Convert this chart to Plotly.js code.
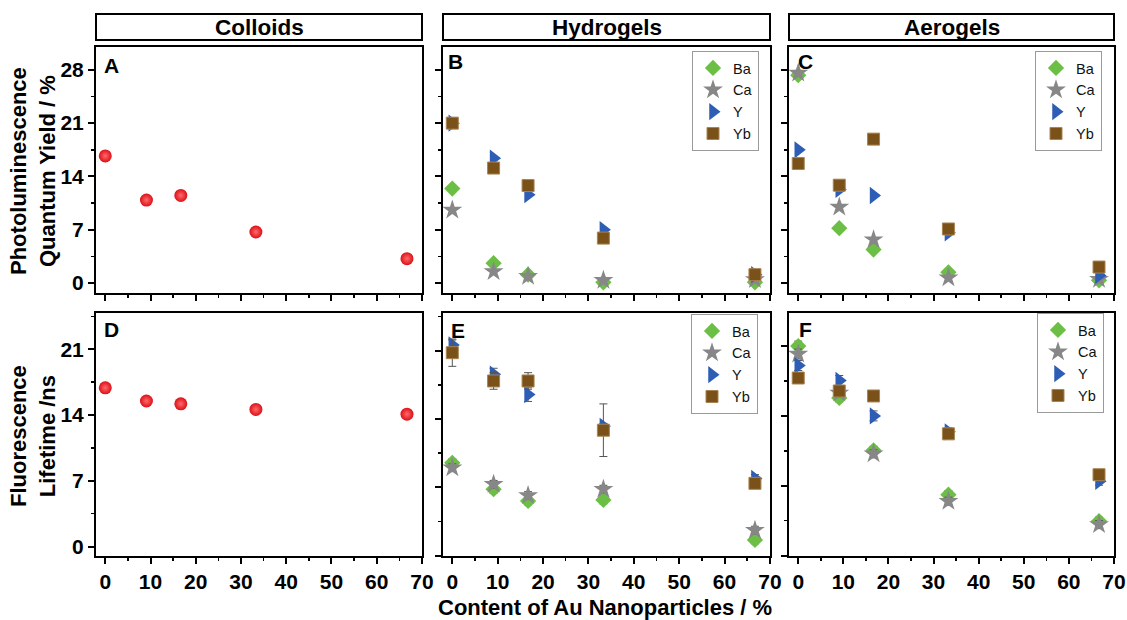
<!DOCTYPE html>
<html>
<head>
<meta charset="utf-8">
<script src="https://cdn.plot.ly/plotly-3.0.1.min.js"></script>
<style>html,body{margin:0;padding:0;background:#fff;}#chart{width:1127px;height:620px;}</style>
</head>
<body>
<div id="chart"></div>
<script>
// ---- data ----
const auContent = [0, 9.1, 16.7, 33.3, 66.7];
const seriesNames = ['Ba', 'Ca', 'Y', 'Yb'];

const colloidQY = [16.7, 10.9, 11.5, 6.7, 3.2];
const colloidLT = [16.9, 15.5, 15.2, 14.6, 14.1];

const hydroQY_Ba = [12.4, 2.6, 1.1, 0.1, 0.1];
const hydroQY_Ca = [9.6, 1.5, 0.9, 0.35, 0.45];
const hydroQY_Y  = [21.0, 16.4, 11.6, 7.0, 1.1];
const hydroQY_Yb = [21.0, 15.1, 12.8, 5.9, 1.1];

const aeroQY_Ba = [27.3, 7.2, 4.4, 1.4, 0.35];
const aeroQY_Ca = [27.6, 10.0, 5.7, 0.7, 0.5];
const aeroQY_Y  = [17.5, 12.3, 11.5, 6.6, 1.0];
const aeroQY_Yb = [15.7, 12.85, 18.9, 7.1, 2.1];

const hydroLT_Ba = [9.5, 6.8, 5.6, 5.7, 1.6];
const hydroLT_Ca = [9.0, 7.3, 6.15, 6.8, 2.6];
const hydroLT_Y  = [21.6, 18.6, 16.5, 13.25, 7.9];
const hydroLT_Yb = [20.8, 17.9, 17.9, 12.85, 7.4];
const hydroLTerr_Ba = [0.4, 0.4, 0.4, 0.4, 0.4];
const hydroLTerr_Ca = [0.4, 0.4, 0.4, 0.4, 0.4];
const hydroLTerr_Y  = [0.5, 0.6, 0.7, 0.3, 0.4];
const hydroLTerr_Yb = [1.4, 0.85, 0.85, 2.7, 0.4];

const aeroLT_Ba = [21.0, 15.8, 10.55, 6.1, 3.45];
const aeroLT_Ca = [20.2, 16.3, 10.2, 5.45, 3.1];
const aeroLT_Y  = [19.05, 17.55, 14.0, 12.4, 7.45];
const aeroLT_Yb = [17.8, 16.5, 16.0, 12.2, 8.1];
const aeroLTerr_Ba = [0.5, 0.4, 0.4, 0.4, 0.4];
const aeroLTerr_Ca = [0.5, 0.4, 0.4, 0.4, 0.4];
const aeroLTerr_Y  = [0.5, 0.5, 0.5, 0.4, 0.4];
const aeroLTerr_Yb = [0.5, 0.5, 0.5, 0.5, 0.5];

const panelHeaders = ['Colloids', 'Hydrogels', 'Aerogels'];
const panelLetters = ['A', 'B', 'C', 'D', 'E', 'F'];
const yTitleTop = 'Photoluminescence<br>Quantum Yield / %';
const yTitleBottom = 'Fluorescence<br>Lifetime /ns';
const xTitle = 'Content of Au Nanoparticles / %';

// ---- styling ----
const W = 1127, H = 620;
const px = v => v / W;
const py = v => 1 - v / H;
const FONT = 'Liberation Sans, Arial, sans-serif';
const styles = {
  Ba: {symbol: 'diamond', size: 12.5, color: '#6cbf45'},
  Ca: {symbol: 'star', size: 15, color: '#878787'},
  Y:  {symbol: 'triangle-right', size: 15, color: '#2d5db5'},
  Yb: {symbol: 'square', size: 12, color: '#7a5119'}
};

const colsX = [[96, 422], [443, 770], [789, 1114]];
const rowsY = [[47, 293], [312.7, 556]];

function seriesTraces(ax, ys, errs, legendName) {
  return seriesNames.map((n, i) => {
    const s = styles[n];
    const t = {
      x: auContent, y: ys[i], xaxis: 'x' + ax, yaxis: 'y' + ax,
      type: 'scatter', mode: 'markers', name: n, legend: legendName,
      marker: {symbol: s.symbol, size: s.size, color: s.color,
               line: {width: n === 'Yb' ? 1 : 0, color: '#a88452'}},
      hoverinfo: 'x+y'
    };
    if (errs) {
      t.error_y = {type: 'data', array: errs[i], visible: true,
                   color: '#555', thickness: 1, width: 4};
    }
    return t;
  });
}

const sphere = {color: '#dc1018', size: 13,
  gradient: {type: 'radial', color: '#ff6a6a'}, line: {width: 0}};

const data = [
  {x: auContent, y: colloidQY, xaxis: 'x', yaxis: 'y', type: 'scatter', mode: 'markers',
   marker: sphere, showlegend: false},
  ...seriesTraces(2, [hydroQY_Ba, hydroQY_Ca, hydroQY_Y, hydroQY_Yb], null, 'legend'),
  ...seriesTraces(3, [aeroQY_Ba, aeroQY_Ca, aeroQY_Y, aeroQY_Yb], null, 'legend2'),
  {x: auContent, y: colloidLT, xaxis: 'x4', yaxis: 'y4', type: 'scatter', mode: 'markers',
   marker: sphere, showlegend: false},
  ...seriesTraces(5, [hydroLT_Ba, hydroLT_Ca, hydroLT_Y, hydroLT_Yb],
                  [hydroLTerr_Ba, hydroLTerr_Ca, hydroLTerr_Y, hydroLTerr_Yb], 'legend3'),
  ...seriesTraces(6, [aeroLT_Ba, aeroLT_Ca, aeroLT_Y, aeroLT_Yb],
                  [aeroLTerr_Ba, aeroLTerr_Ca, aeroLTerr_Y, aeroLTerr_Yb], 'legend4')
];

function axisBase(extra) {
  return Object.assign({
    showline: true, mirror: true, linecolor: 'black', linewidth: 2,
    ticks: 'outside', ticklen: 6, tickwidth: 2, tickcolor: 'black',
    showgrid: false, zeroline: false, fixedrange: true, ticklabeloverflow: 'allow',
    tickfont: {family: FONT, size: 21, color: 'black', weight: 'bold'}
  }, extra);
}
function xAx(col, row, labels, anchor) {
  return axisBase({
    domain: [px(colsX[col][0]), px(colsX[col][1])], anchor: anchor,
    range: [-2.05, 70.02], tick0: 0, dtick: 10, showticklabels: labels,
    minor: {ticks: 'outside', ticklen: 3, tickwidth: 1.5, tickcolor: 'black', dtick: 5, tick0: 0}
  });
}
function yAx(col, row, range, labels, anchor) {
  return axisBase({
    domain: [py(rowsY[row][1]), py(rowsY[row][0])], anchor: anchor,
    range: range, tick0: 0, dtick: 7, showticklabels: labels,
    minor: {ticks: 'outside', ticklen: 3, tickwidth: 1.5, tickcolor: 'black', dtick: 3.5, tick0: 0}
  });
}

function legendAt(x0, y0) {
  return {x: px(x0), y: py(y0), xref: 'paper', yref: 'paper', xanchor: 'left', yanchor: 'top',
          bgcolor: 'white', bordercolor: '#9a9a9a', borderwidth: 1, itemwidth: 30,
          tracegroupgap: 0, font: {family: FONT, size: 14.5, color: '#111'}};
}

const annotations = [];
const shapes = [];
panelHeaders.forEach((h, i) => {
  shapes.push({type: 'rect', xref: 'paper', yref: 'paper',
    x0: px(colsX[i][0]), x1: px(colsX[i][1]), y0: py(40), y1: py(14),
    line: {color: 'black', width: 2}, fillcolor: 'white'});
  annotations.push({text: h, xref: 'paper', yref: 'paper',
    x: px((colsX[i][0] + colsX[i][1]) / 2), y: py(27.5), xanchor: 'center', yanchor: 'middle',
    showarrow: false, font: {family: FONT, size: 22.5, color: 'black', weight: 'bold'}});
});
const letterPos = [[102, 65], [446, 61.5], [796, 62], [102, 329], [449, 330], [797, 329]];
panelLetters.forEach((L, i) => {
  annotations.push({text: L, xref: 'paper', yref: 'paper', x: px(letterPos[i][0]), y: py(letterPos[i][1]),
    xanchor: 'left', yanchor: 'middle', showarrow: false,
    font: {family: FONT, size: 21, color: 'black', weight: 'bold'}});
});
annotations.push({text: yTitleTop, xref: 'paper', yref: 'paper', x: px(33), y: py(171),
  xanchor: 'center', yanchor: 'middle', textangle: -90, showarrow: false,
  font: {family: FONT, size: 22, color: 'black', weight: 'bold'}});
annotations.push({text: yTitleBottom, xref: 'paper', yref: 'paper', x: px(33), y: py(436),
  xanchor: 'center', yanchor: 'middle', textangle: -90, showarrow: false,
  font: {family: FONT, size: 22, color: 'black', weight: 'bold'}});
annotations.push({text: xTitle, xref: 'paper', yref: 'paper', x: px(605), y: py(607),
  xanchor: 'center', yanchor: 'middle', showarrow: false,
  font: {family: FONT, size: 22, color: 'black', weight: 'bold'}});

const layout = {
  width: W, height: H, margin: {l: 0, r: 0, t: 0, b: 0},
  paper_bgcolor: 'white', plot_bgcolor: 'white', showlegend: true,
  xaxis:  xAx(0, 0, false, 'y'),
  xaxis2: xAx(1, 0, false, 'y2'),
  xaxis3: xAx(2, 0, false, 'y3'),
  xaxis4: xAx(0, 1, true, 'y4'),
  xaxis5: xAx(1, 1, true, 'y5'),
  xaxis6: xAx(2, 1, true, 'y6'),
  yaxis:  yAx(0, 0, [-1.31, 31.0], true, 'x'),
  yaxis2: yAx(1, 0, [-1.31, 31.0], false, 'x2'),
  yaxis3: yAx(2, 0, [-1.31, 31.0], false, 'x3'),
  yaxis4: yAx(0, 1, [-1.0, 24.9], true, 'x4'),
  yaxis5: yAx(1, 1, [-0.05, 24.9], false, 'x5'),
  yaxis6: yAx(2, 1, [-0.05, 24.35], false, 'x6'),
  legend:  legendAt(692, 51),
  legend2: legendAt(1035, 51),
  legend3: legendAt(691, 314),
  legend4: legendAt(1037, 313),
  annotations: annotations,
  shapes: shapes
};

Plotly.newPlot('chart', data, layout, {displayModeBar: false, staticPlot: true});
</script>
</body>
</html>
